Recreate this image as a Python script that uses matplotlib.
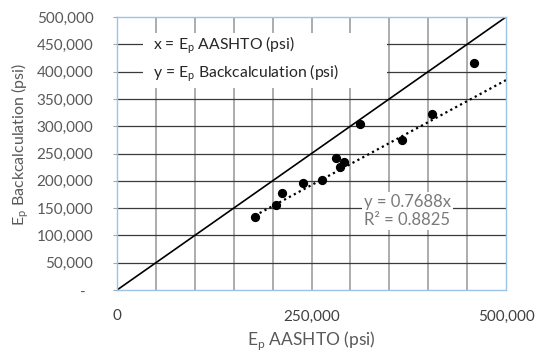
import numpy as np
import matplotlib.pyplot as plt
from matplotlib.patches import Rectangle
from matplotlib.ticker import FixedLocator, FuncFormatter

plt.rcParams['font.family'] = ['Lato', 'DejaVu Sans']
plt.rcParams['mathtext.fontset'] = 'custom'
plt.rcParams['mathtext.rm'] = 'Lato'

# data (psi)
ep_aashto = [177000, 204000, 212000, 239500, 263000, 282000, 286000, 292000, 312000, 366000, 404500, 459000]
ep_backcalc = [133000, 156000, 178000, 196000, 202000, 242000, 225000, 234000, 304000, 275000, 322000, 416000]
slope = 0.7688
r2 = 0.8825
axis_max = 500000
x_ticks = [0, 250000, 500000]
y_ticks = list(range(0, 500001, 50000))
grid_vals = list(range(50000, 500000, 50000))

fig = plt.figure(figsize=(5.37, 3.52), dpi=100)
ax = fig.add_axes([0.2179, 0.1761, 0.7244, 0.7756])

ax.set_xlim(0, axis_max)
ax.set_ylim(0, axis_max)

# grid lines
for g in grid_vals:
    ax.axvline(g, color='#a6a6a6', lw=1.3, zorder=1)
for g in grid_vals:
    ax.axhline(g, color='#3a3a3a', lw=0.9, zorder=1)

# 1:1 line
ax.plot([0, axis_max], [0, axis_max], color='black', lw=1.2, zorder=3)

# trendline through origin
tx = np.array([min(ep_aashto), axis_max])
ax.plot(tx, slope * tx, color='black', lw=1.6, ls=(0, (1, 1.5)), zorder=3)

ax.scatter(ep_aashto, ep_backcalc, s=32, color='black', zorder=4)

# legend box
ax.add_patch(Rectangle((0.067, 0.74), 0.627, 0.2, transform=ax.transAxes,
                       facecolor='white', edgecolor='none', zorder=2))
ax.text(0.093, 0.896, r'x = E$_\mathregular{p}$ AASHTO (psi)', transform=ax.transAxes,
        fontsize=11.3, color='#262626', va='center', ha='left', zorder=5)
ax.text(0.093, 0.795, r'y = E$_\mathregular{p}$ Backcalculation (psi)', transform=ax.transAxes,
        fontsize=11.3, color='#262626', va='center', ha='left', zorder=5)

# trendline label
ax.text(0.746, 0.289, 'y = %.4fx\nR² = %.4f' % (slope, r2), transform=ax.transAxes,
        fontsize=12, color='#7a7a7a', ha='center', va='center', linespacing=1.1,
        bbox=dict(facecolor='white', edgecolor='none', pad=1.5), zorder=5)

ax.xaxis.set_major_locator(FixedLocator(x_ticks))
ax.yaxis.set_major_locator(FixedLocator(y_ticks))
ax.xaxis.set_major_formatter(FuncFormatter(lambda v, p: '0' if v == 0 else '{:,.0f}'.format(v)))
ax.yaxis.set_major_formatter(FuncFormatter(lambda v, p: '-  ' if v == 0 else '{:,.0f}'.format(v)))
ax.tick_params(axis='x', length=0, pad=14, labelsize=11, labelcolor='#404040')
ax.tick_params(axis='y', length=3, color='#a6a6a6', pad=14, labelsize=11, labelcolor='#595959')

for sp in ax.spines.values():
    sp.set_color('#9dc3e6')
    sp.set_linewidth(1.0)
    sp.set_zorder(6)

ax.set_xlabel(r'E$_\mathregular{p}$ AASHTO (psi)', fontsize=12.5, color='#595959', labelpad=4)
ax.set_ylabel(r'E$_\mathregular{p}$ Backcalculation (psi)', fontsize=11.5, color='#595959')
ax.yaxis.set_label_coords(-0.222, 0.535)

fig.savefig('out.png', dpi=100)
